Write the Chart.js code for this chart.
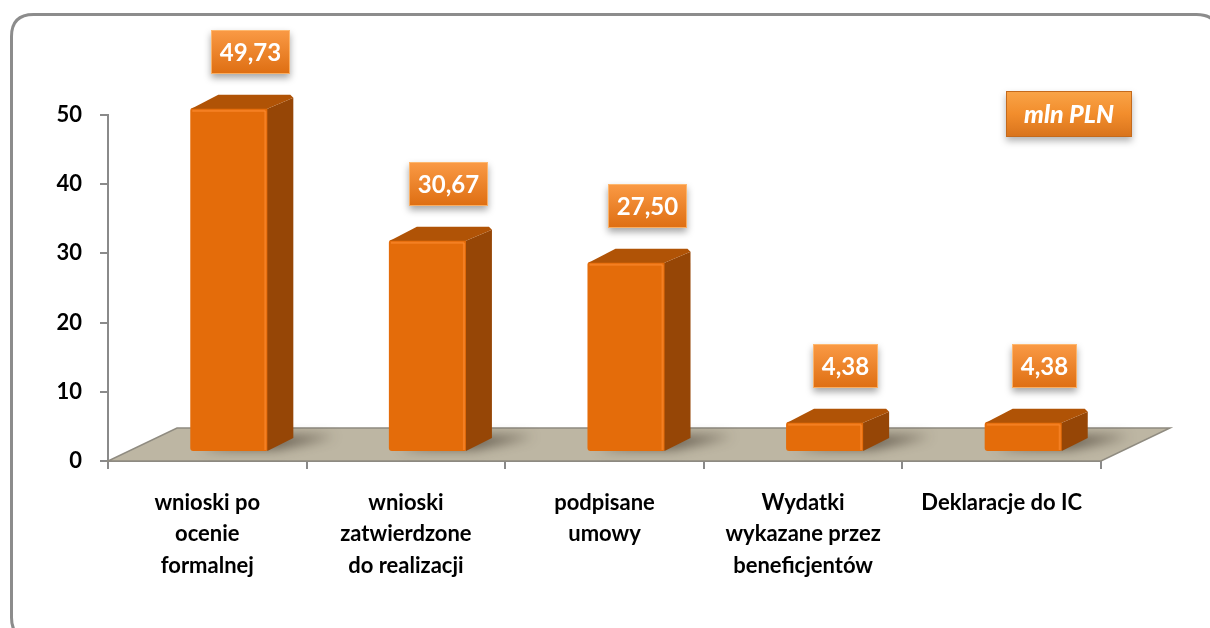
<!DOCTYPE html>
<html>
<head>
<meta charset="utf-8">
<script src="https://cdn.jsdelivr.net/npm/chart.js@4.4.0/dist/chart.umd.min.js"></script>
<style>
  html, body { margin: 0; background: #fff; }
  #wrap { width: 1210px; height: 628px; position: relative; overflow: hidden; }
</style>
</head>
<body>
<div id="wrap"><canvas id="chart" width="1210" height="628"></canvas></div>
<script>
// Chart data
const categories = [
    ['wnioski po', 'ocenie', 'formalnej'],
    ['wnioski', 'zatwierdzone', 'do realizacji'],
    ['podpisane', 'umowy'],
    ['Wydatki', 'wykazane przez', 'beneficjentów'],
    ['Deklaracje do IC']
];
const values = [49.73, 30.67, 27.50, 4.38, 4.38];
const yTicks = [0, 10, 20, 30, 40, 50];
const unitLabel = 'mln PLN';

const FONT = "Lato, 'Open Sans', sans-serif";

// 3D look: bar offset inside the floor, bar depth, floor depth
const barShift = { x: 22, y: -9 };
const barDepth = { x: 25, y: 13 };
const floorDepth = { x: 69, y: 33 };

function fmt(v) {
    return v.toFixed(2).replace('.', ',');
}

function roundRect(ctx, x, y, w, h, r) {
    ctx.beginPath();
    ctx.moveTo(x + r, y);
    ctx.lineTo(x + w - r, y);
    ctx.quadraticCurveTo(x + w, y, x + w, y + r);
    ctx.lineTo(x + w, y + h - r);
    ctx.quadraticCurveTo(x + w, y + h, x + w - r, y + h);
    ctx.lineTo(x + r, y + h);
    ctx.quadraticCurveTo(x, y + h, x, y + h - r);
    ctx.lineTo(x, y + r);
    ctx.quadraticCurveTo(x, y, x + r, y);
    ctx.closePath();
}

// Orange box with gradient and drop shadow
function orangeBox(ctx, x, y, w, h, text, font) {
    ctx.save();
    ctx.shadowColor = 'rgba(0,0,0,0.35)';
    ctx.shadowBlur = 7;
    ctx.shadowOffsetY = 4;
    const g = ctx.createLinearGradient(0, y, 0, y + h);
    g.addColorStop(0, '#fa9a45');
    g.addColorStop(1, '#de6e12');
    ctx.fillStyle = g;
    ctx.fillRect(x, y, w, h);
    ctx.restore();
    ctx.save();
    ctx.strokeStyle = 'rgba(255,190,120,0.8)';
    ctx.lineWidth = 1;
    ctx.strokeRect(x + 0.5, y + 0.5, w - 1, h - 1);
    ctx.fillStyle = '#fff';
    ctx.font = font;
    ctx.textAlign = 'center';
    ctx.textBaseline = 'middle';
    ctx.fillText(text, x + w / 2, y + h / 2 + 1);
    ctx.restore();
}

const frame3d = {
    id: 'frame3d',
    beforeDraw(chart) {
        const ctx = chart.ctx;
        ctx.save();
        ctx.fillStyle = '#fff';
        ctx.fillRect(0, 0, chart.width, chart.height);
        ctx.strokeStyle = '#8c8c8c';
        ctx.lineWidth = 3;
        roundRect(ctx, 11.5, 14.5, 1207, 625, 22);
        ctx.stroke();
        ctx.restore();
    },
    beforeDatasetsDraw(chart) {
        // floor
        const ctx = chart.ctx;
        const xs = chart.scales.x, ys = chart.scales.y;
        const y0 = ys.getPixelForValue(0);
        const l = xs.left, r = xs.right;
        ctx.save();
        ctx.beginPath();
        ctx.moveTo(l, y0);
        ctx.lineTo(r, y0);
        ctx.lineTo(r + floorDepth.x, y0 - floorDepth.y);
        ctx.lineTo(l + floorDepth.x, y0 - floorDepth.y);
        ctx.closePath();
        ctx.fillStyle = '#bdb6a3';
        ctx.fill();
        ctx.strokeStyle = '#8f8b80';
        ctx.lineWidth = 1.5;
        ctx.stroke();
        ctx.restore();
    },
    beforeDatasetDraw(chart, args) {
        const ctx = chart.ctx;
        ctx.save();
        ctx.translate(barShift.x, barShift.y);
        // soft shadows on the floor
        args.meta.data.forEach(el => {
            const p = el.getProps(['x', 'y', 'base', 'width'], true);
            const R = p.x + p.width / 2;
            ctx.save();
            ctx.filter = 'blur(6px)';
            ctx.fillStyle = 'rgba(40,30,20,0.6)';
            ctx.beginPath();
            ctx.moveTo(p.x - p.width / 2 + 10, p.base - 2);
            ctx.lineTo(R + 8, p.base - 2);
            ctx.lineTo(R + barDepth.x + 42, p.base - barDepth.y - 2);
            ctx.lineTo(p.x - p.width / 2 + barDepth.x + 40, p.base - barDepth.y - 2);
            ctx.closePath();
            ctx.fill();
            ctx.restore();
        });
    },
    afterDatasetDraw(chart, args) {
        const ctx = chart.ctx;
        args.meta.data.forEach(el => {
            const p = el.getProps(['x', 'y', 'base', 'width'], true);
            const L = p.x - p.width / 2, R = p.x + p.width / 2;
            // right side
            ctx.beginPath();
            ctx.moveTo(R - 1, p.y + 1);
            ctx.lineTo(R + barDepth.x, p.y - barDepth.y + 3);
            ctx.lineTo(R + barDepth.x, p.base - barDepth.y);
            ctx.lineTo(R - 1, p.base);
            ctx.closePath();
            ctx.fillStyle = '#964606';
            ctx.fill();
            // top
            ctx.beginPath();
            ctx.moveTo(L + 1, p.y + 1);
            ctx.lineTo(L + barDepth.x + 3, p.y - barDepth.y);
            ctx.lineTo(R + barDepth.x - 3, p.y - barDepth.y);
            ctx.lineTo(R + barDepth.x, p.y - barDepth.y + 3);
            ctx.lineTo(R - 1, p.y + 1);
            ctx.closePath();
            ctx.fillStyle = '#b05306';
            ctx.fill();
            // highlight on the front edge
            ctx.fillStyle = 'rgba(255,140,50,0.6)';
            ctx.fillRect(R - 4, p.y + 3, 2, p.base - p.y - 4);
            ctx.fillRect(L + 2, p.y + 2, p.width - 5, 2);
        });
        ctx.restore();
    },
    afterDatasetsDraw(chart) {
        const ctx = chart.ctx;
        const meta = chart.getDatasetMeta(0);
        const labelFont = "bold 24px " + FONT;
        ctx.save();
        ctx.font = labelFont;
        meta.data.forEach((el, i) => {
            const text = fmt(values[i]);
            const w = ctx.measureText(text).width + 18;
            const h = 44;
            const cx = el.x + 43;
            const bottom = el.y + barShift.y - 34;
            orangeBox(ctx, Math.round(cx - w / 2), Math.round(bottom - h), Math.round(w), h, text, labelFont);
        });
        // unit box
        const a = chart.chartArea;
        const ux = a.right + 31 - 126, uy = a.top - 24;
        ctx.save();
        ctx.shadowColor = 'rgba(0,0,0,0.3)';
        ctx.shadowBlur = 7;
        ctx.shadowOffsetY = 4;
        const g = ctx.createLinearGradient(0, uy, 0, uy + 46);
        g.addColorStop(0, '#f9a448');
        g.addColorStop(0.5, '#f28d2c');
        g.addColorStop(1, '#d8731c');
        ctx.fillStyle = g;
        ctx.fillRect(ux, uy, 126, 46);
        ctx.restore();
        ctx.strokeStyle = '#c46a1c';
        ctx.lineWidth = 1;
        ctx.strokeRect(ux + 0.5, uy + 0.5, 125, 45);
        ctx.fillStyle = '#fff';
        ctx.font = "italic 900 25px " + FONT;
        ctx.textAlign = 'center';
        ctx.textBaseline = 'middle';
        ctx.fillText(unitLabel, ux + 63, uy + 24);
        ctx.restore();
    }
};

const ctx = document.getElementById('chart').getContext('2d');
new Chart(ctx, {
    type: 'bar',
    data: {
        labels: categories,
        datasets: [{
            data: values,
            backgroundColor: '#e46c0a',
            borderRadius: 3,
            borderSkipped: false,
            barPercentage: 0.393,
            categoryPercentage: 1,
            clip: false
        }]
    },
    plugins: [frame3d],
    options: {
        responsive: false,
        animation: false,
        layout: {
            padding: { top: 115, right: 109, left: 0, bottom: 0 }
        },
        plugins: {
            legend: { display: false },
            tooltip: { enabled: false }
        },
        scales: {
            x: {
                offset: true,
                grid: {
                    offset: true,
                    drawOnChartArea: false,
                    tickLength: 8,
                    color: '#8a8a8a',
                    lineWidth: 2
                },
                border: { color: '#8a8a8a', width: 2 },
                ticks: {
                    color: '#000',
                    font: { family: FONT, size: 22, weight: 'bold', lineHeight: 1.43 },
                    padding: 18,
                    maxRotation: 0,
                    autoSkip: false
                },
                afterFit(scale) { scale.height = 167; }
            },
            y: {
                min: 0,
                max: 50,
                afterBuildTicks(scale) {
                    scale.ticks = yTicks.map(v => ({ value: v }));
                },
                grid: {
                    drawOnChartArea: false,
                    tickLength: 8,
                    color: '#8a8a8a',
                    lineWidth: 2
                },
                border: { color: '#8a8a8a', width: 2 },
                ticks: {
                    color: '#000',
                    font: { family: FONT, size: 22, weight: 'bold' },
                    padding: 18
                },
                afterFit(scale) { scale.width = 108; }
            }
        }
    }
});
</script>
</body>
</html>
